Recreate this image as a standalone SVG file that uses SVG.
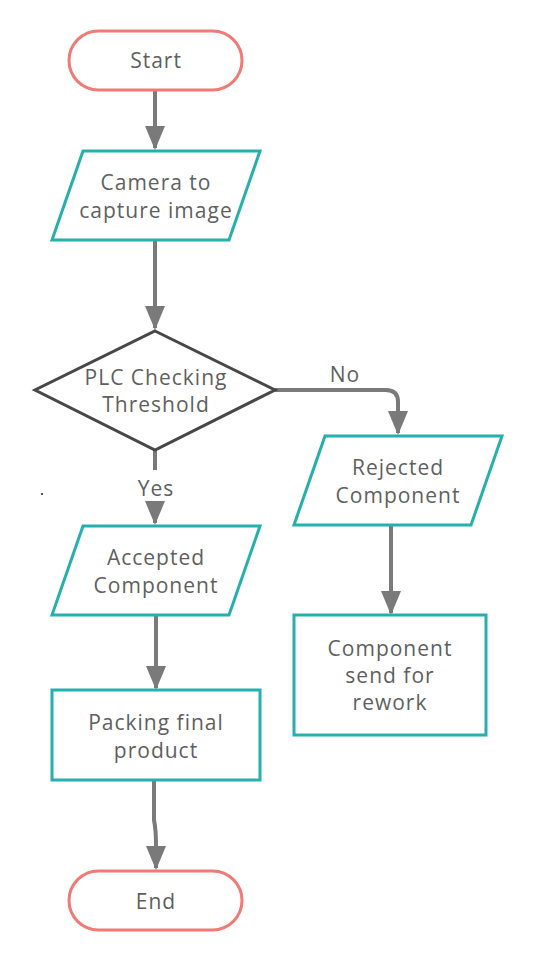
<svg xmlns="http://www.w3.org/2000/svg" width="537" height="961" viewBox="0 0 537 961">
<style>
.t{font-family:"Open Sans","Liberation Sans",sans-serif;font-size:21px;letter-spacing:1px;fill:#5f5f5f;text-anchor:middle}
.term{fill:#fff;stroke:#f07a75;stroke-width:3}
.io{fill:#fff;stroke:#26b0ad;stroke-width:3}
.dec{fill:#fff;stroke:#474747;stroke-width:3}
.c{fill:none;stroke:#7a7a7a;stroke-width:4}
</style>
<defs>
<marker id="ah" markerWidth="6" markerHeight="5" refX="5.5" refY="2.5" orient="auto" markerUnits="strokeWidth">
<path d="M0,0 L6,2.5 L0,5 Z" fill="#7a7a7a"/>
</marker>
</defs>
<rect width="537" height="961" fill="#fff"/>
<g id="connectors">
<path class="c" d="M155,90 V148" marker-end="url(#ah)"/>
<path class="c" d="M155,240 V328" marker-end="url(#ah)"/>
<path class="c" d="M155,450 V470"/>
<path class="c" d="M155,507 V523" marker-end="url(#ah)"/>
<path class="c" d="M275,390 H386 Q398,390 398,402 V433" marker-end="url(#ah)"/>
<path class="c" d="M391,525 V613" marker-end="url(#ah)"/>
<path class="c" d="M156,615 V688" marker-end="url(#ah)"/>
<path class="c" d="M154,780 V820 Q156,830 156,845 V868" marker-end="url(#ah)"/>
<text class="t" x="345" y="382">No</text>
<text class="t" x="156" y="496">Yes</text>
</g>
<g id="start">
<rect class="term" x="69" y="31" width="173" height="59" rx="29.5"/>
<text class="t" x="156" y="68">Start</text>
</g>
<g id="camera">
<polygon class="io" points="83,151 260,151 229,240 52,240"/>
<text class="t" x="156" y="190">Camera to</text>
<text class="t" x="156" y="218">capture image</text>
</g>
<g id="plc">
<polygon class="dec" points="155,331 275,390 155,450 35,390"/>
<text class="t" x="156" y="385">PLC Checking</text>
<text class="t" x="156" y="412">Threshold</text>
</g>
<g id="accepted">
<polygon class="io" points="83,526 260,526 229,615 52,615"/>
<text class="t" x="156" y="565">Accepted</text>
<text class="t" x="156" y="593">Component</text>
</g>
<g id="rejected">
<polygon class="io" points="325,436 502,436 471,525 294,525"/>
<text class="t" x="398" y="475">Rejected</text>
<text class="t" x="398" y="503">Component</text>
</g>
<g id="packing">
<rect class="io" x="52" y="690" width="208" height="90"/>
<text class="t" x="156" y="730">Packing final</text>
<text class="t" x="156" y="758">product</text>
</g>
<g id="rework">
<rect class="io" x="294" y="615" width="192" height="120"/>
<text class="t" x="390" y="656">Component</text>
<text class="t" x="390" y="683">send for</text>
<text class="t" x="390" y="710">rework</text>
</g>
<g id="end">
<rect class="term" x="69" y="871" width="173" height="59" rx="29.5"/>
<text class="t" x="156" y="909">End</text>
</g>
<rect x="41" y="493" width="2" height="2" fill="#555"/>
</svg>
